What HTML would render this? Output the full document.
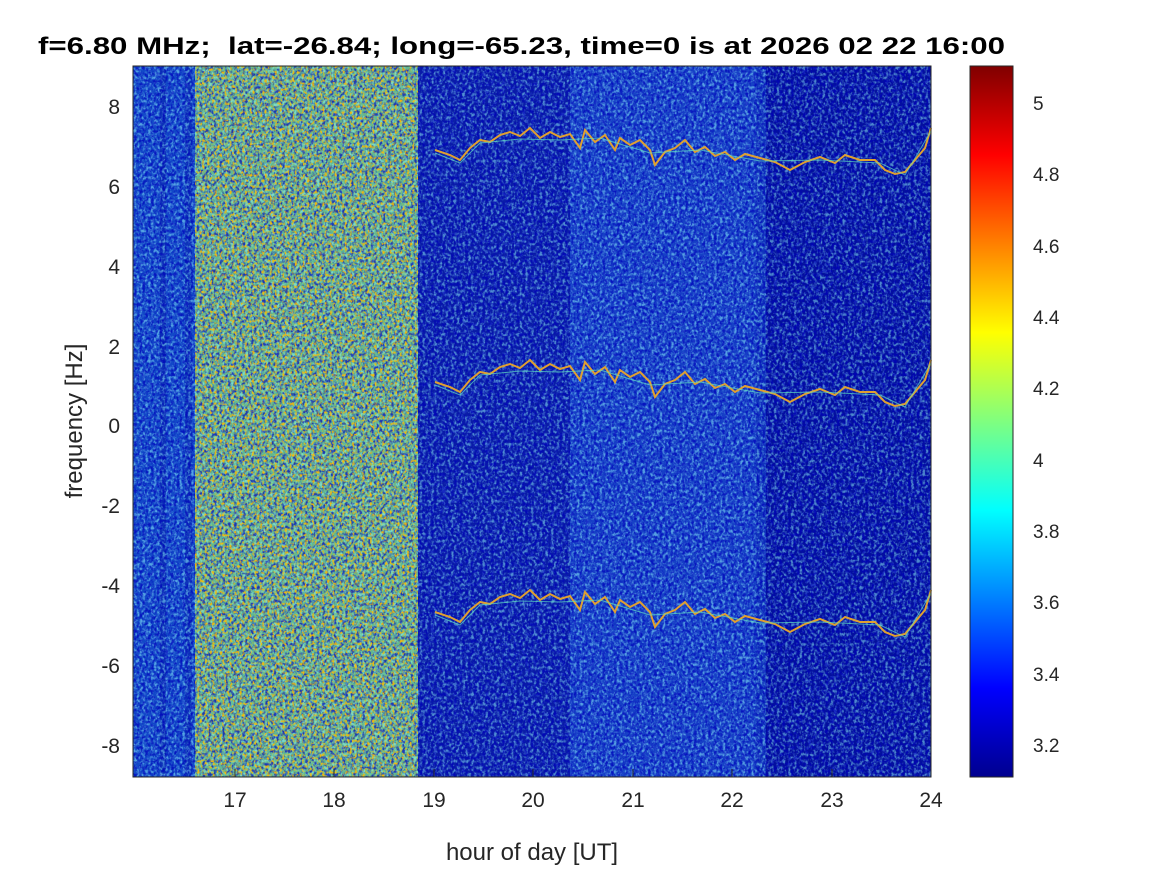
<!DOCTYPE html>
<html><head><meta charset="utf-8"><style>
body{margin:0;background:#fff;}
svg{display:block;font-family:"Liberation Sans",Arial,sans-serif;}
</style></head><body>
<svg width="1167" height="875" viewBox="0 0 1167 875" xmlns="http://www.w3.org/2000/svg">
<defs>
<filter id="nz" x="0" y="0" width="100%" height="100%">
<feTurbulence type="fractalNoise" baseFrequency="0.35 0.3" numOctaves="2" seed="3" result="t"/>
<feColorMatrix in="t" type="matrix" values="0 0 0 0 0.3  0 0 0 0 1  0 0 0 0 1  3.5 0 0 0 -1.5"/>
</filter>
<filter id="nz2" x="0" y="0" width="100%" height="100%">
<feTurbulence type="fractalNoise" baseFrequency="0.35 0.3" numOctaves="2" seed="9" result="t"/>
<feColorMatrix in="t" type="matrix" values="0 0 0 0 0  0 0 0 0 0  0 0 0 0 0.5  3.5 0 0 0 -1.5"/>
</filter>
<filter id="nzr" x="0" y="0" width="100%" height="100%">
<feTurbulence type="fractalNoise" baseFrequency="0.4 0.35" numOctaves="2" seed="17" result="t"/>
<feColorMatrix in="t" type="matrix" values="0 0 0 0 1  0 0 0 0 0.5  0 0 0 0 0  4 0 0 0 -2.0"/>
</filter>
<linearGradient id="jet" x1="0" y1="1" x2="0" y2="0">
<stop offset="0" stop-color="#00008f"/><stop offset="0.125" stop-color="#0000ff"/>
<stop offset="0.375" stop-color="#00ffff"/><stop offset="0.625" stop-color="#ffff00"/>
<stop offset="0.875" stop-color="#ff0000"/><stop offset="1" stop-color="#800000"/>
</linearGradient>
<g id="tr">
<polyline fill="none" stroke="#e0a030" stroke-width="2" points="435,150 450,155 460,160 470,148 480,140 490,142 500,135 510,132 520,136 530,128 540,138 550,132 560,137 570,134 580,148 585,130 595,142 605,135 615,150 620,138 630,145 640,140 650,150 655,165 665,152 675,148 685,140 695,152 705,147 715,156 725,152 735,160 745,154 760,158 775,162 790,170 805,162 820,157 835,163 845,155 860,160 875,160 885,170 895,174 905,172 915,160 925,148 931,128"/>
<polyline fill="none" stroke="#60e0c0" stroke-width="1" opacity="0.7" points="435,153 460,163 480,143 520,139 560,140 600,138 650,153 700,150 760,161 820,160 880,163 905,175 931,131"/>
</g>
</defs>
<rect x="133" y="66" width="798" height="711" fill="#0a22b0"/>
<rect x="133" y="66" width="62" height="711" fill="#1248c8"/>
<rect x="160" y="66" width="6" height="711" fill="#0a28b0" opacity="0.7"/>
<rect x="185" y="66" width="7" height="711" fill="#0a28b0" opacity="0.6"/>
<rect x="195" y="66" width="223" height="711" fill="#62b890"/>
<rect x="418" y="66" width="152" height="711" fill="#0a1ca8"/>
<rect x="570" y="66" width="186" height="711" fill="#1640c6"/>
<rect x="756" y="66" width="10" height="711" fill="#1034bc"/>
<rect x="766" y="66" width="165" height="711" fill="#04109e"/>
<rect x="133" y="66" width="798" height="711" filter="url(#nz)" opacity="0.5"/>
<rect x="133" y="66" width="798" height="711" filter="url(#nz2)" opacity="0.7"/>
<rect x="195" y="66" width="223" height="711" filter="url(#nzr)" opacity="0.9"/>
<use href="#tr"/>
<use href="#tr" transform="translate(0,232)"/>
<use href="#tr" transform="translate(0,462)"/>
<rect x="133" y="66" width="798" height="711" fill="none" stroke="#262626" stroke-width="1"/>
<g stroke="#262626" stroke-width="1">
<line x1="235" y1="777" x2="235" y2="769"/><line x1="334" y1="777" x2="334" y2="769"/>
<line x1="434" y1="777" x2="434" y2="769"/><line x1="533" y1="777" x2="533" y2="769"/>
<line x1="633" y1="777" x2="633" y2="769"/><line x1="732" y1="777" x2="732" y2="769"/>
<line x1="832" y1="777" x2="832" y2="769"/><line x1="931" y1="777" x2="931" y2="769"/>
</g>
<g font-size="21" fill="#262626" text-anchor="middle">
<text x="235" y="807">17</text><text x="334" y="807">18</text><text x="434" y="807">19</text>
<text x="533" y="807">20</text><text x="633" y="807">21</text><text x="732" y="807">22</text>
<text x="832" y="807">23</text><text x="931" y="807">24</text>
</g>
<g font-size="21" fill="#262626" text-anchor="end">
<text x="120" y="114">8</text><text x="120" y="194">6</text><text x="120" y="274">4</text>
<text x="120" y="354">2</text><text x="120" y="433">0</text><text x="120" y="513">-2</text>
<text x="120" y="593">-4</text><text x="120" y="673">-6</text><text x="120" y="753">-8</text>
</g>
<text x="532" y="860" font-size="24" fill="#262626" text-anchor="middle">hour of day [UT]</text>
<text transform="translate(82,421) rotate(-90)" font-size="24" fill="#262626" text-anchor="middle">frequency [Hz]</text>
<text x="38" y="54" font-size="24" font-weight="bold" fill="#000" textLength="967" lengthAdjust="spacingAndGlyphs" xml:space="preserve">f=6.80 MHz;  lat=-26.84; long=-65.23, time=0 is at 2026 02 22 16:00</text>
<rect x="970" y="66" width="43" height="711" fill="url(#jet)" stroke="#262626" stroke-width="1"/>
<g font-size="19" fill="#262626">
<text x="1033" y="110">5</text><text x="1033" y="181">4.8</text><text x="1033" y="253">4.6</text>
<text x="1033" y="324">4.4</text><text x="1033" y="395">4.2</text><text x="1033" y="467">4</text>
<text x="1033" y="538">3.8</text><text x="1033" y="609">3.6</text><text x="1033" y="681">3.4</text>
<text x="1033" y="752">3.2</text>
</g>
</svg>
</body></html>
